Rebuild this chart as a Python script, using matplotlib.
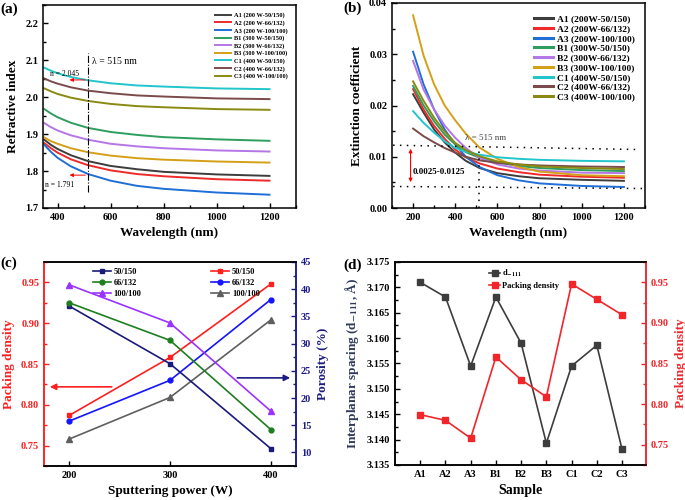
import matplotlib.pyplot as plt
from matplotlib.ticker import MultipleLocator, FormatStrFormatter

plt.rcParams['font.family'] = ['Liberation Serif', 'DejaVu Serif']
plt.rcParams['font.weight'] = 'bold'
plt.rcParams['mathtext.fontset'] = 'stix'
plt.rcParams['axes.linewidth'] = 1.1

# Muestras y colores
muestras = ['A1', 'A2', 'A3', 'B1', 'B2', 'B3', 'C1', 'C2', 'C3']
etiquetas_a = ['A1 (200 W-50/150)', 'A2 (200 W-66/132)', 'A3 (200 W-100/100)',
               'B1 (300 W-50/150)', 'B2 (300 W-66/132)', 'B3 (300 W-100/100)',
               'C1 (400 W-50/150)', 'C2 (400 W-66/132)', 'C3 (400 W-100/100)']
etiquetas_b = ['A1 (200W-50/150)', 'A2 (200W-66/132)', 'A3 (200W-100/100)',
               'B1 (300W-50/150)', 'B2 (300W-66/132)', 'B3 (300W-100/100)',
               'C1 (400W-50/150)', 'C2 (400W-66/132)', 'C3 (400W-100/100)']
colores = ['#3d3d3d', '#ee2a2a', '#1f6fd6', '#2e9e5e', '#b576e6',
           '#d4a017', '#22c6ca', '#7b4b4b', '#8a8a12']

# (a) Índice de refracción
wl_a = [350, 375, 400, 450, 515, 600, 700, 800, 1000, 1200]
n_A1 = [1.885, 1.871, 1.860, 1.843, 1.827, 1.814, 1.805, 1.798, 1.791, 1.787]
n_A2 = [1.876, 1.862, 1.850, 1.832, 1.816, 1.802, 1.792, 1.786, 1.778, 1.774]
n_A3 = [1.871, 1.852, 1.836, 1.813, 1.792, 1.774, 1.760, 1.752, 1.742, 1.736]
n_B1 = [1.968, 1.956, 1.946, 1.931, 1.917, 1.906, 1.898, 1.892, 1.886, 1.882]
n_B2 = [1.930, 1.919, 1.910, 1.897, 1.885, 1.874, 1.867, 1.862, 1.856, 1.853]
n_B3 = [1.891, 1.881, 1.874, 1.862, 1.851, 1.842, 1.835, 1.831, 1.826, 1.823]
n_C1 = [2.080, 2.072, 2.065, 2.055, 2.046, 2.038, 2.032, 2.029, 2.024, 2.022]
n_C2 = [2.051, 2.043, 2.037, 2.027, 2.018, 2.011, 2.005, 2.002, 1.997, 1.995]
n_C3 = [2.024, 2.016, 2.009, 1.999, 1.990, 1.982, 1.976, 1.973, 1.968, 1.966]

# (b) Coeficiente de extinción
wl_b = [200, 250, 300, 350, 400, 450, 515, 600, 700, 800, 1000, 1200]
k_A1 = [0.0222, 0.0186, 0.0153, 0.0128, 0.0108, 0.0092, 0.0078, 0.0068, 0.0062, 0.0058, 0.0055, 0.0053]
k_A2 = [0.0232, 0.0192, 0.0160, 0.0135, 0.0114, 0.0099, 0.0087, 0.0077, 0.0070, 0.0065, 0.0061, 0.0059]
k_A3 = [0.0305, 0.0241, 0.0192, 0.0153, 0.0124, 0.0100, 0.0080, 0.0064, 0.0054, 0.0048, 0.0043, 0.0041]
k_B1 = [0.0238, 0.0200, 0.0169, 0.0143, 0.0124, 0.0109, 0.0098, 0.0089, 0.0082, 0.0078, 0.0074, 0.0072]
k_B2 = [0.0287, 0.0231, 0.0192, 0.0161, 0.0137, 0.0117, 0.0098, 0.0085, 0.0077, 0.0073, 0.0069, 0.0068]
k_B3 = [0.0376, 0.0297, 0.0241, 0.0200, 0.0171, 0.0145, 0.0118, 0.0096, 0.0080, 0.0071, 0.0064, 0.0062]
k_C1 = [0.0189, 0.0166, 0.0147, 0.0130, 0.0117, 0.0110, 0.0104, 0.0099, 0.0096, 0.0094, 0.0092, 0.0091]
k_C2 = [0.0155, 0.0140, 0.0128, 0.0117, 0.0108, 0.0100, 0.0093, 0.0088, 0.0085, 0.0083, 0.0081, 0.0080]
k_C3 = [0.0247, 0.0209, 0.0176, 0.0149, 0.0127, 0.0113, 0.0101, 0.0091, 0.0085, 0.0081, 0.0078, 0.0076]

# (c) Densidad de empaquetamiento y porosidad vs potencia
potencia = [200, 300, 400]
pd_50 = [0.787, 0.858, 0.948]
pd_66 = [0.780, 0.830, 0.929]
pd_100 = [0.758, 0.809, 0.904]
por_50 = [36.9, 26.3, 10.7]
por_66 = [37.5, 30.6, 14.2]
por_100 = [40.8, 33.8, 17.6]

# (d) Espaciado interplanar y densidad por muestra
d_111 = [3.1710, 3.1681, 3.1545, 3.1681, 3.1590, 3.1393, 3.1545, 3.1586, 3.1381]
pd_muestra = [0.787, 0.780, 0.758, 0.858, 0.830, 0.809, 0.948, 0.929, 0.910]

fig = plt.figure(figsize=(6.85, 5.0), dpi=100)
W, H = 685, 500


def caja(izq, der, arr, aba):  # posición de ejes en píxeles
    return [izq / W, (H - aba) / H, (der - izq) / W, (aba - arr) / H]


def estilo(ax, lado='both'):
    ax.tick_params(which='both', direction='in', labelsize=7.5, width=1)
    ax.tick_params(which='major', length=3.5)
    ax.tick_params(which='minor', length=2)
    for t in ax.get_xticklabels() + ax.get_yticklabels():
        t.set_fontweight('bold')


# ---------------- (a) ----------------
ax = fig.add_axes(caja(43, 296, 5, 208))
series_a = [n_A1, n_A2, n_A3, n_B1, n_B2, n_B3, n_C1, n_C2, n_C3]
for s, c, e in zip(series_a, colores, etiquetas_a):
    ax.plot(wl_a, s, color=c, lw=1.4, label=e)
ax.set_xlim(345, 1300)
ax.set_ylim(1.7, 2.25)
ax.xaxis.set_major_locator(MultipleLocator(200))
ax.xaxis.set_minor_locator(MultipleLocator(100))
ax.yaxis.set_major_locator(MultipleLocator(0.1))
ax.yaxis.set_minor_locator(MultipleLocator(0.05))
ax.yaxis.set_major_formatter(FormatStrFormatter('%.1f'))
estilo(ax)
ax.set_xlabel('Wavelength (nm)', fontsize=9.5, fontweight='bold')
ax.set_ylabel('Refractive index', fontsize=9.5, fontweight='bold')
ax.plot([515, 515], [1.742, 2.121], color='black', ls='-.', lw=0.8)
ax.text(530, 2.096, 'λ = 515 nm', fontsize=7, fontweight='normal', va='center')
ax.annotate('', xy=(435, 2.047), xytext=(515, 2.047),
            arrowprops=dict(arrowstyle='-|>', color='red', lw=0.7, mutation_scale=5))
ax.annotate('', xy=(435, 1.789), xytext=(515, 1.789),
            arrowprops=dict(arrowstyle='-|>', color='red', lw=0.7, mutation_scale=5))
ax.text(372, 2.063, 'n = 2.045', fontsize=5.5, fontweight='normal', va='center')
ax.text(353, 1.761, 'n = 1.791', fontsize=5.5, fontweight='normal', va='center')
ax.legend(loc='upper right', bbox_to_anchor=(0.985, 0.985), frameon=False,
          prop={'size': 4.6, 'weight': 'bold'}, labelspacing=0.28,
          handlelength=2.6, handletextpad=0.4, borderpad=0.2)
fig.text(0.0, 0.995, '(a)', fontsize=11, fontweight='bold', va='top')

# ---------------- (b) ----------------
ax = fig.add_axes(caja(392, 645, 3, 208))
series_b = [k_A1, k_A2, k_A3, k_B1, k_B2, k_B3, k_C1, k_C2, k_C3]
for s, c, e in zip(series_b, colores, etiquetas_b):
    ax.plot(wl_b, s, color=c, lw=1.4, label=e)
ax.set_xlim(100, 1300)
ax.set_ylim(0, 0.04)
ax.xaxis.set_major_locator(MultipleLocator(200))
ax.xaxis.set_minor_locator(MultipleLocator(100))
ax.yaxis.set_major_locator(MultipleLocator(0.01))
ax.yaxis.set_minor_locator(MultipleLocator(0.005))
ax.yaxis.set_major_formatter(FormatStrFormatter('%.2f'))
estilo(ax)
ax.set_xlabel('Wavelength (nm)', fontsize=9.5, fontweight='bold')
ax.set_ylabel('Extinction coefficient', fontsize=9.5, fontweight='bold')
ax.plot([105, 1277], [0.01225, 0.0114], color='black', ls=(0, (1, 3.5)), lw=1.1)
ax.plot([105, 1297], [0.0042, 0.0038], color='black', ls=(0, (1, 3.5)), lw=1.1)
ax.plot([515, 515], [0, 0.0115], color='black', ls=(0, (1, 3.5)), lw=1.1)
ax.annotate('', xy=(188, 0.0045), xytext=(188, 0.0121),
            arrowprops=dict(arrowstyle='<|-|>', color='red', lw=0.8, mutation_scale=5))
ax.text(444, 0.0137, 'λ = 515 nm', fontsize=6.5, fontweight='normal', color='#444444', va='center')
ax.text(197, 0.0070, '0.0025-0.0125', fontsize=6.5, fontweight='bold', va='center')
ax.legend(loc='upper right', bbox_to_anchor=(0.985, 0.975), frameon=False,
          prop={'size': 6.8, 'weight': 'bold'}, labelspacing=0.12,
          handlelength=2.0, handletextpad=0.4, borderpad=0.2)
for l in ax.get_legend().get_lines():
    l.set_linewidth(2.2)
fig.text(343 / W, 0.997, '(b)', fontsize=11, fontweight='bold', va='top')

# ---------------- (c) ----------------
ax = fig.add_axes(caja(44, 296, 262, 466))
ax2 = ax.twinx()
rojo, azul_osc = '#ff1f1f', '#1c1c84'
l1, = ax2.plot(potencia, por_50, color='#1a1a7a', marker='s', ms=3.5, lw=1.2, label='50/150')
l2, = ax2.plot(potencia, por_66, color='#1e7e1e', marker='o', ms=3.5, lw=1.2, label='66/132')
l3, = ax2.plot(potencia, por_100, color='#9a33ff', marker='^', ms=3.8, lw=1.2, label='100/100')
p1, = ax.plot(potencia, pd_50, color=rojo, marker='s', ms=3.5, lw=1.2, label='50/150')
p2, = ax.plot(potencia, pd_66, color='#1414ff', marker='o', ms=3.5, lw=1.2, label='66/132')
p3, = ax.plot(potencia, pd_100, color='#5f5f5f', marker='^', ms=3.8, lw=1.2, label='100/100')
ax.set_xlim(175, 425)
ax.set_ylim(0.725, 0.975)
ax2.set_ylim(7.5, 45)
ax.set_xticks(potencia)
ax.yaxis.set_major_locator(MultipleLocator(0.05))
ax.yaxis.set_minor_locator(MultipleLocator(0.025))
ax.yaxis.set_major_formatter(FormatStrFormatter('%.2f'))
ax2.yaxis.set_major_locator(MultipleLocator(5))
ax2.yaxis.set_minor_locator(MultipleLocator(2.5))
estilo(ax)
estilo(ax2)
ax.spines['left'].set_color(rojo)
ax2.spines['left'].set_color(rojo)
ax.spines['right'].set_color(azul_osc)
ax2.spines['right'].set_color(azul_osc)
ax.tick_params(axis='y', which='both', colors=rojo)
ax2.tick_params(axis='y', which='both', colors=azul_osc)
ax.set_xlabel('Sputtering power (W)', fontsize=9.5, fontweight='bold')
ax.set_ylabel('Packing density', fontsize=9.5, fontweight='bold', color=rojo)
ax2.set_ylabel('Porosity (%)', fontsize=9.5, fontweight='bold', color=azul_osc)
ax.annotate('', xy=(178, 0.822), xytext=(245, 0.822),
            arrowprops=dict(arrowstyle='-|>', color=rojo, lw=1.2, mutation_scale=9))
ax.annotate('', xy=(422, 0.833), xytext=(364, 0.833),
            arrowprops=dict(arrowstyle='-|>', color=azul_osc, lw=1.2, mutation_scale=9))
leg1 = ax2.legend(handles=[l1, l2, l3], loc='upper left', bbox_to_anchor=(0.17, 1.0),
                  frameon=False, prop={'size': 6, 'weight': 'bold'}, labelspacing=0.35,
                  handlelength=2.2, handletextpad=0.3, borderpad=0.2)
ax2.add_artist(leg1)
ax2.legend(handles=[p1, p2, p3], loc='upper left', bbox_to_anchor=(0.64, 1.0),
           frameon=False, prop={'size': 6, 'weight': 'bold'}, labelspacing=0.35,
           handlelength=2.2, handletextpad=0.3, borderpad=0.2)
fig.text(0.0, 1 - 257 / H, '(c)', fontsize=11, fontweight='bold', va='top')

# ---------------- (d) ----------------
ax = fig.add_axes(caja(395, 646, 262, 465))
ax2 = ax.twinx()
x_m = list(range(1, len(muestras) + 1))
gris = '#3d3d3d'
q1, = ax.plot(x_m, d_111, color=gris, marker='s', ms=5, lw=1.2, label=r'd$_{\mathbf{-111}}$')
q2, = ax2.plot(x_m, pd_muestra, color='#f0262b', marker='s', ms=5, lw=1.2, label='Packing density')
ax.set_xlim(0, 9.95)
ax.set_ylim(3.135, 3.175)
ax2.set_ylim(0.725, 0.975)
ax.set_xticks(x_m)
ax.set_xticklabels(muestras)
ax.yaxis.set_major_locator(MultipleLocator(0.005))
ax.yaxis.set_minor_locator(MultipleLocator(0.0025))
ax.yaxis.set_major_formatter(FormatStrFormatter('%.3f'))
ax2.yaxis.set_major_locator(MultipleLocator(0.05))
ax2.yaxis.set_minor_locator(MultipleLocator(0.025))
ax2.yaxis.set_major_formatter(FormatStrFormatter('%.2f'))
estilo(ax)
estilo(ax2)
ax.spines['right'].set_color('#f0262b')
ax2.spines['right'].set_color('#f0262b')
ax2.tick_params(axis='y', which='both', colors='#f0262b')
ax.set_xlabel('Sample', fontsize=10, fontweight='bold')
ax.set_ylabel(r'Interplanar spacing (d$_{\mathbf{-111}}$, Å)', fontsize=9.5,
              fontweight='bold', color='#2e3a58')
ax2.set_ylabel('Packing density', fontsize=9.5, fontweight='bold', color='#f0262b')
ax2.legend(handles=[q1, q2], loc='upper left', bbox_to_anchor=(0.35, 1.0), frameon=False,
           prop={'size': 6, 'weight': 'bold'}, labelspacing=0.3,
           handlelength=1.4, handletextpad=0.2, borderpad=0.2)
fig.text(343 / W, 1 - 259 / H, '(d)', fontsize=11, fontweight='bold', va='top')

fig.savefig('out.png', dpi=100)
